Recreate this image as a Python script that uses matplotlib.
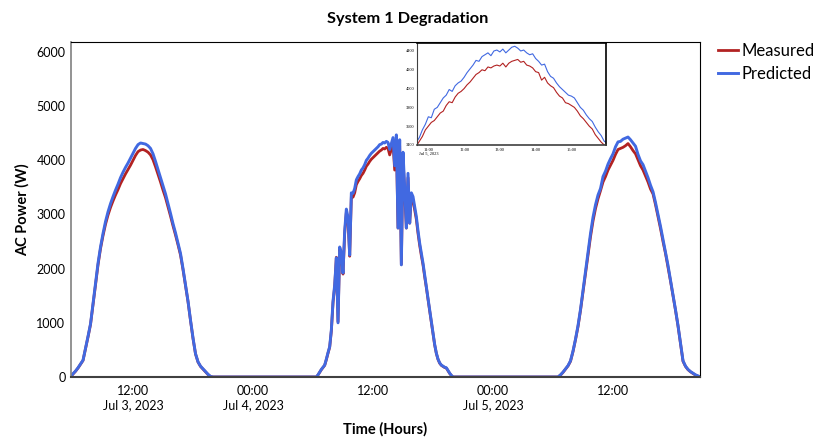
import matplotlib
matplotlib.use('Agg')
import matplotlib.pyplot as plt
import matplotlib.dates as mdates
import pandas as pd

plt.rcParams['font.family'] = ['Lato', 'DejaVu Sans']

# AC power (W), one list per day, sampled on a fixed step from the day's first reading
day1_start = '2023-07-03 05:45'
day1_step = '15min'
day1_measured = [0, 55, 105, 165, 235, 305, 520, 740, 970, 1330, 1700, 2070, 2370, 2610, 2820,
                 2990, 3130, 3250, 3360, 3460, 3570, 3660, 3750, 3830, 3910, 4000, 4090, 4160, 4190, 4200,
                 4180, 4150, 4100, 4010, 3880, 3740, 3600, 3450, 3310, 3140, 2970, 2790, 2620, 2440, 2250,
                 1980, 1680, 1390, 1040, 710, 425, 275, 195, 145, 95, 45, 8, 0]
day1_predicted = [0, 60, 110, 170, 240, 310, 530, 750, 980, 1350, 1720, 2100, 2400, 2650, 2870,
                  3050, 3200, 3330, 3450, 3560, 3680, 3780, 3870, 3950, 4040, 4130, 4220, 4290, 4320, 4310,
                  4300, 4270, 4220, 4120, 3980, 3830, 3680, 3530, 3380, 3200, 3020, 2830, 2660, 2470, 2280,
                  2000, 1700, 1400, 1050, 720, 430, 280, 200, 150, 100, 50, 10, 0]

day2_start = '2023-07-04 06:20'
day2_step = '10min'
day2_measured = [0, 38, 85, 135,
                 175, 215, 320, 440, 550, 850,
                 1370, 1670, 2210, 1020, 2360, 2260,
                 1900, 2650, 3040, 2900, 2230, 3330,
                 3320, 3400, 3550, 3610, 3660, 3720,
                 3760, 3820, 3890, 3930, 3980, 4020,
                 4050, 4080, 4110, 4140, 4170, 4190,
                 4220, 4210, 4240, 4220, 4100, 4200,
                 4300, 3820, 4350, 2750, 4270, 2080,
                 4050, 3420, 2750, 3680, 2840, 3330,
                 3260, 3090, 2910, 2650, 2430, 2240,
                 2070, 1850, 1650, 1430, 1220, 1010,
                 800, 590, 435, 325, 255, 215,
                 195, 175, 165, 115, 65, 28,
                 0]
day2_predicted = [0, 40, 90, 140,
                  180, 220, 330, 450, 560, 870,
                  1400, 1700, 2200, 1000, 2400, 2300,
                  1920, 2700, 3100, 2950, 2250, 3400,
                  3390, 3480, 3640, 3700, 3750, 3820,
                  3860, 3920, 4000, 4040, 4090, 4130,
                  4160, 4190, 4220, 4250, 4290, 4300,
                  4330, 4320, 4350, 4330, 4200, 4310,
                  4420, 3900, 4470, 2750, 4380, 2070,
                  4150, 3500, 2750, 3760, 2840, 3400,
                  3330, 3150, 2960, 2700, 2470, 2280,
                  2100, 1880, 1670, 1450, 1240, 1020,
                  810, 600, 440, 330, 260, 220,
                  200, 180, 170, 120, 70, 30,
                  0]

day3_start = '2023-07-05 06:30'
day3_step = '15min'
day3_measured = [0, 35, 85, 145, 205, 290, 470, 690, 930, 1230, 1570, 1910, 2250, 2590,
                 2880, 3110, 3290, 3440, 3600, 3700, 3820, 3910, 4000, 4110, 4200, 4220,
                 4240, 4270, 4310, 4250, 4180, 4120, 4010, 3900, 3820, 3710, 3600, 3470,
                 3380, 3180, 2960, 2740, 2500, 2280, 2030, 1770, 1500, 1230, 940, 610,
                 290, 195, 135, 95, 65, 35, 15, 0]
day3_predicted = [0, 40, 90, 150, 210, 300, 480, 700, 950, 1250, 1600, 1950, 2300, 2650,
                  2950, 3180, 3360, 3480, 3700, 3800, 3930, 4030, 4120, 4250, 4340, 4350,
                  4390, 4410, 4430, 4380, 4320, 4260, 4110, 3990, 3920, 3800, 3680, 3540,
                  3420, 3220, 3000, 2780, 2540, 2310, 2060, 1790, 1520, 1240, 950, 620,
                  300, 200, 140, 100, 70, 40, 20, 0]

# zoomed window on Jul 5 midday, 5 minute readings
inset_start = '2023-07-05 10:40'
inset_step = '5min'
inset_measured = [3390, 3440, 3490, 3560, 3600, 3640, 3660, 3700, 3740, 3760, 3820, 3860, 3850,
                  3910, 3950, 3970, 4000, 4040, 4070, 4110, 4150, 4170, 4200, 4190, 4230, 4220,
                  4240, 4250, 4240, 4270, 4230, 4270, 4290, 4300, 4310, 4280, 4290, 4250, 4240,
                  4220, 4180, 4170, 4090, 4120, 4060, 4030, 4010, 3960, 3920, 3900, 3850, 3840,
                  3820, 3800, 3760, 3710, 3680, 3640, 3600, 3570, 3510, 3470, 3430, 3400, 3380]
inset_predicted = [3430, 3480, 3560, 3620, 3700, 3690, 3780, 3800, 3850, 3900, 3930, 3990, 3970,
                   4030, 4060, 4080, 4120, 4170, 4210, 4250, 4300, 4290, 4340, 4360, 4380, 4350,
                   4400, 4410, 4390, 4420, 4380, 4410, 4440, 4450, 4430, 4400, 4410, 4380, 4360,
                   4370, 4320, 4290, 4250, 4260, 4180, 4130, 4110, 4060, 4020, 3990, 3960, 3930,
                   3920, 3900, 3850, 3800, 3770, 3720, 3680, 3650, 3590, 3540, 3500, 3440, 3420]

tick_times = ['2023-07-03 12:00', '2023-07-04 00:00', '2023-07-04 12:00', '2023-07-05 00:00', '2023-07-05 12:00']
tick_labels = ['12:00\nJul 3, 2023', '00:00\nJul 4, 2023', '12:00', '00:00\nJul 5, 2023', '12:00']
inset_tick_times = ['2023-07-05 11:00', '2023-07-05 12:00', '2023-07-05 13:00', '2023-07-05 14:00', '2023-07-05 15:00']
inset_tick_labels = ['11:00\nJul 5, 2023', '12:00', '13:00', '14:00', '15:00']

red = '#b22222'
blue = '#4169e1'

# build the time axis for each day
t1 = pd.date_range(day1_start, periods=len(day1_measured), freq=day1_step)
t2 = pd.date_range(day2_start, periods=len(day2_measured), freq=day2_step)
t3 = pd.date_range(day3_start, periods=len(day3_measured), freq=day3_step)
times = t1.append(t2).append(t3)
measured = day1_measured + day2_measured + day3_measured
predicted = day1_predicted + day2_predicted + day3_predicted
ti = pd.date_range(inset_start, periods=len(inset_measured), freq=inset_step)

fig = plt.figure(figsize=(8.22, 4.40), dpi=100)
ax = fig.add_axes([0.0864, 0.1432, 0.7652, 0.7614])

ax.plot(times, measured, color=red, lw=2.0, label='Measured')
ax.plot(times, predicted, color=blue, lw=2.1, label='Predicted')

ax.set_xlim(pd.Timestamp('2023-07-03 05:48'), pd.Timestamp('2023-07-05 20:42'))
ax.set_ylim(0, 6185)
ax.set_yticks([0, 1000, 2000, 3000, 4000, 5000, 6000])
ax.set_xticks([pd.Timestamp(t) for t in tick_times])
ax.set_xticklabels(tick_labels)
ax.tick_params(length=0, labelsize=9, pad=4)
ax.tick_params(axis='x', pad=6)

for s in ['top', 'right']:
    ax.spines[s].set_color('black')
    ax.spines[s].set_linewidth(0.8)
ax.spines['left'].set_color('#808080')
ax.spines['left'].set_linewidth(1.2)
ax.spines['bottom'].set_color('#404040')
ax.spines['bottom'].set_linewidth(1.5)

ax.set_ylabel('AC Power (W)', fontsize=10.5, fontweight='bold', labelpad=4.5)
ax.set_xlabel('Time (Hours)', fontsize=10.5, fontweight='bold', labelpad=8)
fig.text(408 / 822, 1 - 19 / 440, 'System 1 Degradation', fontsize=11.8, fontweight='bold',
         ha='center', va='center')

fig.legend(loc='upper left', bbox_to_anchor=(0.865, 0.917), frameon=False, fontsize=12,
           handlelength=1.2, handletextpad=0.25, labelspacing=0.4, borderaxespad=0)

# inset
axi = fig.add_axes([0.5073, 0.6705, 0.2299, 0.2318])
axi.plot(ti, inset_measured, color=red, lw=0.8)
axi.plot(ti, inset_predicted, color=blue, lw=0.8)
axi.set_xlim(pd.Timestamp('2023-07-05 10:41'), pd.Timestamp('2023-07-05 15:58'))
axi.set_ylim(3400, 4485)
axi.set_yticks([3400, 3600, 3800, 4000, 4200, 4400])
axi.set_xticks([pd.Timestamp(t) for t in inset_tick_times])
axi.set_xticklabels(inset_tick_labels)
axi.tick_params(length=0, labelsize=3.2, pad=2)
for lab in axi.get_xticklabels() + axi.get_yticklabels():
    lab.set_family('Liberation Serif')
for s in ['top', 'right']:
    axi.spines[s].set_color('black')
    axi.spines[s].set_linewidth(1.2)
axi.spines['left'].set_color('#404040')
axi.spines['bottom'].set_color('#404040')
axi.spines['bottom'].set_linewidth(1.2)

fig.savefig('out.png', dpi=100)
